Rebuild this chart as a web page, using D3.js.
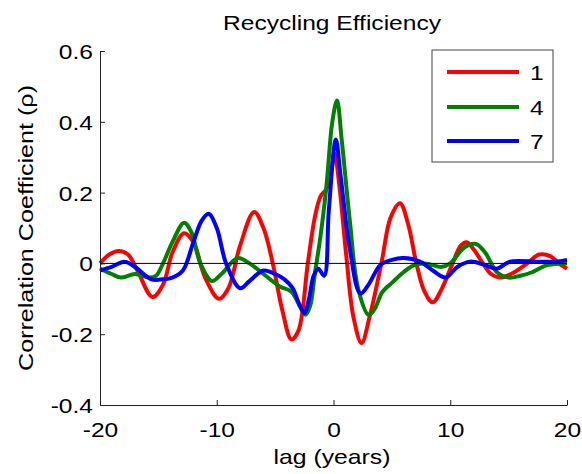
<!DOCTYPE html>
<html>
<head>
<meta charset="utf-8">
<script src="https://cdn.jsdelivr.net/npm/d3@7"></script>
<style>
  body { margin: 0; background: #fff; }
  svg text { font-family: "Liberation Sans", Arial, sans-serif; fill: #000; }
</style>
</head>
<body>
<div id="chart"></div>
<script>
// lag (years) and correlation values, one set per series
const seriesNames = ['1', '4', '7'];
const seriesColors = ['#ff0000', '#008000', '#0000ff'];

const lag1 = [-20, -19.2, -18.4, -17.6, -16.8, -15.5, -14.6, -13.8, -12.8, -12.0, -11.0, -9.8, -9.0, -8.0, -6.8, -6.0, -5.2, -4.4, -3.6, -3.0, -2.2, -1.6, -1.1, -0.6, -0.2, 0.1, 0.5, 1.1, 1.7, 2.4, 3.1, 4.1, 4.9, 5.7, 6.4, 7.1, 7.8, 8.5, 9.3, 10.2, 10.9, 11.4, 12.0, 12.8, 13.5, 14.2, 15.2, 16.6, 17.6, 18.6, 19.3, 20];
const rho1 = [0.0, 0.025, 0.035, 0.025, -0.02, -0.095, -0.06, 0.03, 0.085, 0.06, -0.04, -0.1, -0.07, 0.05, 0.145, 0.1, 0.0, -0.13, -0.215, -0.19, 0.0, 0.13, 0.19, 0.21, 0.26, 0.31, 0.22, 0.02, -0.15, -0.225, -0.15, 0.0, 0.13, 0.17, 0.11, 0.0, -0.08, -0.11, -0.07, 0.0, 0.05, 0.06, 0.04, 0.0, -0.03, -0.04, -0.03, 0.0, 0.025, 0.02, 0.0, -0.015];

const lag4 = [-20, -19, -18.2, -17, -15.8, -15.2, -14.6, -13.8, -12.8, -12.2, -11.4, -10.4, -9.6, -8.2, -7.2, -6.0, -4.6, -3.6, -2.9, -2.4, -2.0, -1.6, -1.1, -0.6, -0.1, 0.3, 0.7, 1.4, 2.1, 3.0, 3.5, 4.2, 5.0, 6.0, 6.9, 7.8, 8.5, 9.2, 10.0, 11.2, 12.2, 13.0, 14.0, 15.0, 16.0, 17.0, 18.3, 20];
const rho4 = [-0.015, -0.03, -0.04, -0.03, -0.04, -0.035, 0.0, 0.06, 0.115, 0.09, 0.0, -0.05, -0.03, 0.015, 0.0, -0.03, -0.065, -0.08, -0.12, -0.145, -0.12, -0.03, 0.08, 0.22, 0.4, 0.46, 0.35, 0.12, -0.07, -0.145, -0.13, -0.08, -0.055, -0.025, -0.005, 0.0, -0.005, -0.01, 0.0, 0.045, 0.055, 0.03, -0.025, -0.04, -0.035, -0.025, -0.005, 0.0];

const lag7 = [-20, -19, -17.9, -17.0, -15.6, -14.6, -13.8, -12.9, -12.0, -11.3, -10.7, -10.0, -9.2, -8.0, -7.2, -6.0, -5.0, -4.2, -3.5, -3.0, -2.5, -2.1, -1.7, -1.3, -0.8, -0.4, 0.2, 0.6, 1.4, 2.3, 3.0, 4.0, 5.0, 6.0, 7.4, 8.5, 9.6, 10.6, 11.7, 13.0, 14.0, 15.1, 17.4, 19, 20];
const rho7 = [-0.02, -0.01, 0.005, -0.01, -0.045, -0.045, -0.04, -0.02, 0.06, 0.12, 0.14, 0.1, 0.0, -0.07, -0.05, -0.02, -0.03, -0.045, -0.07, -0.11, -0.14, -0.1, -0.035, -0.015, -0.035, 0.15, 0.35, 0.25, 0.04, -0.085, -0.06, -0.005, 0.01, 0.015, 0.005, -0.02, -0.04, -0.01, 0.005, -0.005, -0.015, 0.005, 0.005, 0.005, 0.01];

const xTicks = [-20, -10, 0, 10, 20];
const yTicks = [-0.4, -0.2, 0, 0.2, 0.4, 0.6];

const width = 582, height = 474;
const margin = {top: 51, right: 15, bottom: 69, left: 100};
const innerW = width - margin.left - margin.right;
const innerH = height - margin.top - margin.bottom;
const stretch = 1.17; // reference text renders a bit wider than Liberation Sans

const svg = d3.select('#chart').append('svg')
    .attr('width', width)
    .attr('height', height);

const chart = svg.append('g')
    .attr('transform', `translate(${margin.left},${margin.top})`);

const x = d3.scaleLinear().domain([-20, 20]).range([0, innerW]);
const y = d3.scaleLinear().domain([-0.4, 0.6]).range([innerH, 0]);

// Series lines
const lagSets = [lag1, lag4, lag7];
const rhoSets = [rho1, rho4, rho7];
const line = d3.line()
    .x(d => x(d[0]))
    .y(d => y(d[1]))
    .curve(d3.curveCatmullRom.alpha(0.5));

lagSets.forEach((lags, i) => {
  const pts = lags.map((l, j) => [l, rhoSets[i][j]]);
  chart.append('path')
      .datum(pts)
      .attr('fill', 'none')
      .attr('stroke', seriesColors[i])
      .attr('stroke-width', 4)
      .attr('stroke-linejoin', 'round')
      .attr('d', line);
});

// zero reference line
chart.append('line')
    .attr('x1', x(-20)).attr('x2', x(20))
    .attr('y1', y(0)).attr('y2', y(0))
    .attr('stroke', '#000')
    .attr('stroke-width', 1);

// Axes, ticks pointing inward, plain hyphen for negatives
const xAxis = d3.axisBottom(x).tickValues(xTicks).tickFormat(d => String(d))
    .tickSizeInner(-5).tickSizeOuter(0).tickPadding(17);
const yAxis = d3.axisLeft(y).tickValues(yTicks).tickFormat(d => d === 0 ? '0' : d.toFixed(1))
    .tickSizeInner(-5).tickSizeOuter(0).tickPadding(7);

const xg = chart.append('g').attr('transform', `translate(0,${innerH})`).call(xAxis);
const yg = chart.append('g').call(yAxis);
[xg, yg].forEach(g => {
  g.selectAll('text')
      .style('font-size', '21px')
      .attr('fill', '#000')
      .attr('transform', `scale(${stretch},1)`);
  g.selectAll('line, path').attr('stroke', '#222');
});
yg.selectAll('text').attr('x', -7 / stretch).attr('dy', '0.36em');

// Titles
svg.append('text')
    .attr('x', 332).attr('y', 30)
    .attr('text-anchor', 'middle')
    .attr('textLength', 218).attr('lengthAdjust', 'spacingAndGlyphs')
    .style('font-size', '21px')
    .text('Recycling Efficiency');

svg.append('text')
    .attr('x', 332).attr('y', 464)
    .attr('text-anchor', 'middle')
    .attr('textLength', 117).attr('lengthAdjust', 'spacingAndGlyphs')
    .style('font-size', '21px')
    .text('lag (years)');

svg.append('text')
    .attr('transform', 'translate(33,228) rotate(-90)')
    .attr('text-anchor', 'middle')
    .attr('textLength', 286).attr('lengthAdjust', 'spacingAndGlyphs')
    .style('font-size', '21px')
    .text('Correlation Coefficient (ρ)');

// Legend
const legend = svg.append('g').attr('transform', 'translate(432,50)');
legend.append('rect')
    .attr('width', 121).attr('height', 112)
    .attr('fill', '#fff')
    .attr('stroke', '#444')
    .attr('stroke-width', 1);
const rowY = [22, 57, 91];
seriesNames.forEach((name, i) => {
  legend.append('line')
      .attr('x1', 15).attr('x2', 87)
      .attr('y1', rowY[i]).attr('y2', rowY[i])
      .attr('stroke', seriesColors[i])
      .attr('stroke-width', 4);
  legend.append('text')
      .attr('transform', `translate(98,${rowY[i]}) scale(${stretch},1)`)
      .attr('dy', '0.36em')
      .style('font-size', '21px')
      .text(name);
});
</script>
</body>
</html>
